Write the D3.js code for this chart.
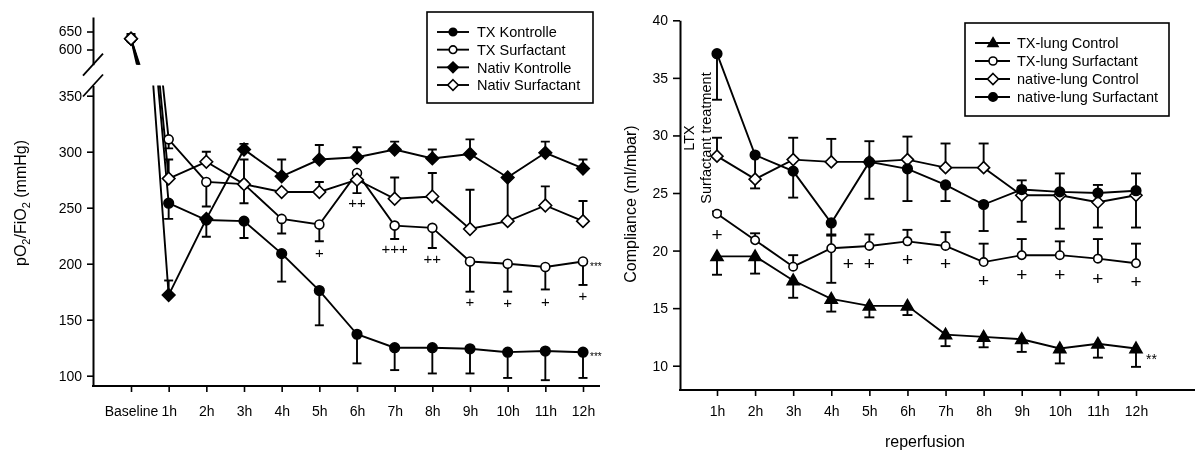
<!DOCTYPE html>
<html><head><meta charset="utf-8">
<script src="https://cdn.jsdelivr.net/npm/d3@7"></script>
<style>body{margin:0;background:#fff} svg{opacity:0.999;will-change:opacity} text{font-family:"Liberation Sans",Arial,sans-serif;fill:#000}</style>
</head><body><svg id="c" width="1195" height="451"></svg>
<script>
// ---------- LEFT CHART DATA (pO2/FiO2, mmHg) ----------
const catsL = ["Baseline","1h","2h","3h","4h","5h","6h","7h","8h","9h","10h","11h","12h"];
const txKontrolle      = [630, 254, 239, 238, 209, 176, 137, 125, 125, 124, 121, 122, 121];
const txKontrolleLo    = [null,240, 224, 223, 184, 145, 111, 105, 102, 102, 98,  96,  98];
const txSurfactant     = [630, 311, 273, 271, 240, 235, 281, 234, 232, 202, 200, 197, 202];
const txSurfactantLo   = [null,303, 251, 254, 227, 220, 263, 222, 214, 175, 175, 177, 181];
const nativKontrolle   = [630, 172, 240, 302, 278, 293, 295, 302, 294, 298, 277, 299, 285];
const nativKontrolleHi = [null,185, null,307, 293, 306, 304, 309, 302, 311, null,309, 293];
const nativSurfactant  = [630, 276, 291, 271, 264, 264, 275, 258, 260, 231, 238, 252, 238];
const nativSurfactantHi= [643, 293, 300, 293, null,273, null,277, 281, 266, 277, 269, 256];
const ticksLLow  = [100,150,200,250,300,350];
const ticksLHigh = [600,650];
const signifL = [["5h",210,"+"],["6h",254,"++"],["7h",213,"+++"],["8h",204,"++"],["9h",166,"+"],["10h",165,"+"],["11h",166,"+"],["12h",171,"+"]];
const starsL = [["12h",199,"***"],["12h",119,"***"]];

// ---------- RIGHT CHART DATA (Compliance, ml/mbar) ----------
const catsR = ["1h","2h","3h","4h","5h","6h","7h","8h","9h","10h","11h","12h"];
const txLungControl     = [19.5,19.5,17.4,15.8,15.2,15.2,12.7,12.5,12.3,11.5,11.9,11.5];
const txLungControlLo   = [17.9,18.0,15.9,14.7,14.2,14.4,11.7,11.6,11.2,10.2,10.7,9.9];
const txLungSurf        = [23.2,20.9,18.6,20.2,20.4,20.8,20.4,19.0,19.6,19.6,19.3,18.9];
const txLungSurfHi      = [23.4,21.5,19.6,21.4,21.4,21.8,21.6,20.6,21.0,20.8,21.0,20.6];
const txLungSurfLo      = [null,null,null,17.2,null,null,null,null,null,null,null,null];
const nativeControl     = [28.2,26.2,27.9,27.7,27.7,27.9,27.2,27.2,24.8,24.8,24.2,24.8];
const nativeControlHi   = [29.8,null,29.8,29.7,29.5,29.9,29.3,29.3,26.1,26.7,25.7,26.7];
const nativeControlLo   = [null,25.4,null,null,null,null,null,null,null,null,null,null];
const nativeSurf        = [37.1,28.3,26.9,22.4,27.7,27.1,25.7,24.0,25.3,25.1,25.0,25.2];
const nativeSurfLo      = [33.1,26.1,24.6,21.3,24.5,24.3,24.3,21.7,22.5,21.9,22.0,22.0];
const ticksR = [10,15,20,25,30,35,40];
const signifR = [["1h",21.45,"+",0],["4h",18.9,"+",17],["5h",18.9,"+",0],["6h",19.2,"+",0],["7h",18.9,"+",0],["8h",17.4,"+",0],["9h",17.95,"+",0],["10h",17.95,"+",0],["11h",17.6,"+",0],["12h",17.3,"+",0]];
const starsR = [["12h",10.9,"**"]];

const svg = d3.select("#c");
const SW = 1.9;

function markerPath(type, x, y, s) {
  const p = d3.path();
  if (type === "circle") { p.moveTo(x + s, y); p.arc(x, y, s, 0, 2 * Math.PI); }
  else if (type === "diamond") { p.moveTo(x, y - s); p.lineTo(x + s, y); p.lineTo(x, y + s); p.lineTo(x - s, y); p.closePath(); }
  else if (type === "triangle") { p.moveTo(x, y - s * 1.05); p.lineTo(x + s, y + s * 0.7); p.lineTo(x - s, y + s * 0.7); p.closePath(); }
  return p.toString();
}
function drawMarker(g, type, filled, x, y, s) {
  g.append("path").attr("d", markerPath(type, x, y, s))
    .attr("fill", filled ? "#000" : "#fff").attr("stroke", "#000").attr("stroke-width", 1.6);
}
function drawBar(g, x, y0, y1, cap) {
  g.append("line").attr("x1", x).attr("x2", x).attr("y1", y0).attr("y2", y1).attr("stroke", "#000").attr("stroke-width", SW);
  g.append("line").attr("x1", x - cap).attr("x2", x + cap).attr("y1", y1).attr("y2", y1).attr("stroke", "#000").attr("stroke-width", SW);
}

// ================= LEFT CHART =================
const xL = d3.scalePoint().domain(catsL).range([131, 583]);
const yLow = d3.scaleLinear().domain([90.8, 359.1]).range([386, 85.5]);
const yHigh = d3.scaleLinear().domain([557.8, 690.3]).range([64.7, 17]);

const defs = svg.append("defs");
defs.append("clipPath").attr("id", "clipHigh").append("rect").attr("x", 94).attr("y", 0).attr("width", 520).attr("height", 64.7);
defs.append("clipPath").attr("id", "clipLow").append("rect").attr("x", 94).attr("y", 85.5).attr("width", 520).attr("height", 300.5);

const seriesL = [
  {v: txKontrolle, lo: txKontrolleLo, hi: null, type: "circle", filled: true, s: 4.8},
  {v: txSurfactant, lo: txSurfactantLo, hi: null, type: "circle", filled: false, s: 4.5},
  {v: nativKontrolle, lo: null, hi: nativKontrolleHi, type: "diamond", filled: true, s: 6.3},
  {v: nativSurfactant, lo: null, hi: nativSurfactantHi, type: "diamond", filled: false, s: 6.3}
];
const BREAK = 450;
[[yHigh, "clipHigh", d => d >= BREAK], [yLow, "clipLow", d => d < BREAK]].forEach(([ys, clip, inPanel]) => {
  const g = svg.append("g").attr("clip-path", `url(#${clip})`);
  const line = d3.line().x((d, i) => xL(catsL[i])).y(d => ys(d));
  seriesL.forEach(s => {
    g.append("path").datum(s.v).attr("d", line).attr("fill", "none").attr("stroke", "#000").attr("stroke-width", SW);
  });
  seriesL.forEach(s => {
    s.v.forEach((d, i) => {
      if (!inPanel(d)) return;
      const x = xL(catsL[i]);
      if (s.lo && s.lo[i] != null) drawBar(g, x, ys(d), ys(s.lo[i]), 4.5);
      if (s.hi && s.hi[i] != null) drawBar(g, x, ys(d), ys(s.hi[i]), 4.5);
    });
  });
  seriesL.forEach(s => {
    s.v.forEach((d, i) => {
      if (!inPanel(d)) return;
      drawMarker(g, s.type, s.filled, xL(catsL[i]), ys(d), s.s);
    });
  });
});

// left axes
const axLow = svg.append("g").attr("transform", "translate(93,0)")
  .call(d3.axisLeft(yLow).tickValues(ticksLLow).tickSize(6).tickSizeOuter(0).tickPadding(5));
const axHigh = svg.append("g").attr("transform", "translate(93,0)")
  .call(d3.axisLeft(yHigh).tickValues(ticksLHigh).tickSize(6).tickSizeOuter(0).tickPadding(5));
[axLow, axHigh].forEach(a => {
  a.selectAll("path.domain").attr("stroke-width", 2);
  a.selectAll(".tick line").attr("stroke-width", 1.6);
  a.selectAll("text").attr("font-size", 14).attr("font-family", "Liberation Sans, Arial, sans-serif");
});
// break marks
[64.7, 85.5].forEach(cy => {
  svg.append("line").attr("x1", 83).attr("y1", cy + 11).attr("x2", 103).attr("y2", cy - 11).attr("stroke", "#000").attr("stroke-width", 1.8);
});
// x axis
svg.append("line").attr("x1", 92).attr("x2", 600).attr("y1", 386).attr("y2", 386).attr("stroke", "#000").attr("stroke-width", 2);
const axXL = svg.append("g").attr("transform", "translate(0,386)")
  .call(d3.axisBottom(xL).tickSize(6).tickPadding(14));
axXL.select("path.domain").remove();
axXL.selectAll(".tick line").attr("stroke-width", 1.6);
axXL.selectAll("text").attr("font-size", 14).attr("font-family", "Liberation Sans, Arial, sans-serif");

// y label
const ylab = svg.append("text").attr("transform", "translate(26,203) rotate(-90)").attr("text-anchor", "middle").attr("font-size", 16);
ylab.append("tspan").text("pO");
ylab.append("tspan").attr("font-size", 11).attr("dy", 4).text("2");
ylab.append("tspan").attr("dy", -4).text("/FiO");
ylab.append("tspan").attr("font-size", 11).attr("dy", 4).text("2");
ylab.append("tspan").attr("dy", -4).text(" (mmHg)");

// significance
signifL.forEach(([c, v, t]) => {
  svg.append("text").attr("x", xL(c)).attr("y", yLow(v)).attr("dy", "0.35em").attr("text-anchor", "middle").attr("font-size", 15).text(t);
});
starsL.forEach(([c, v, t]) => {
  svg.append("text").attr("x", xL(c) + 7).attr("y", yLow(v)).attr("dy", "0.55em").attr("font-size", 10).attr("fill", "#333").text(t);
});

// left legend
svg.append("rect").attr("x", 427).attr("y", 12).attr("width", 166).attr("height", 91).attr("fill", "#fff").attr("stroke", "#000").attr("stroke-width", 1.6);
const legL = [["TX Kontrolle", "circle", true, 3.8], ["TX Surfactant", "circle", false, 3.8], ["Nativ Kontrolle", "diamond", true, 5.3], ["Nativ Surfactant", "diamond", false, 5.3]];
const legLY = d3.scalePoint().domain(d3.range(4)).range([32, 85]);
legL.forEach(([t, type, f, s], i) => {
  const y = legLY(i);
  svg.append("line").attr("x1", 437).attr("x2", 469).attr("y1", y).attr("y2", y).attr("stroke", "#000").attr("stroke-width", SW);
  drawMarker(svg, type, f, 453, y, s);
  svg.append("text").attr("x", 477).attr("y", y).attr("dy", "0.36em").attr("font-size", 14.5).text(t);
});

// ================= RIGHT CHART =================
const xR = d3.scalePoint().domain(catsR).range([717, 1136]);
const yR = d3.scaleLinear().domain([7.89, 40]).range([390, 20.3]);
const seriesR = [
  {v: txLungControl, lo: txLungControlLo, hi: null, type: "triangle", filled: true, s: 6},
  {v: txLungSurf, lo: txLungSurfLo, hi: txLungSurfHi, type: "circle", filled: false, s: 4.2},
  {v: nativeControl, lo: nativeControlLo, hi: nativeControlHi, type: "diamond", filled: false, s: 6},
  {v: nativeSurf, lo: nativeSurfLo, hi: null, type: "circle", filled: true, s: 4.8}
];
const gR = svg.append("g");
const lineR = d3.line().x((d, i) => xR(catsR[i])).y(d => yR(d));
seriesR.forEach(s => gR.append("path").datum(s.v).attr("d", lineR).attr("fill", "none").attr("stroke", "#000").attr("stroke-width", SW));
seriesR.forEach(s => s.v.forEach((d, i) => {
  const x = xR(catsR[i]);
  if (s.lo && s.lo[i] != null) drawBar(gR, x, yR(d), yR(s.lo[i]), 5);
  if (s.hi && s.hi[i] != null) drawBar(gR, x, yR(d), yR(s.hi[i]), 5);
}));
seriesR.forEach(s => s.v.forEach((d, i) => drawMarker(gR, s.type, s.filled, xR(catsR[i]), yR(d), s.s)));

const axYR = svg.append("g").attr("transform", "translate(680,0)")
  .call(d3.axisLeft(yR).tickValues(ticksR).tickSize(7).tickSizeOuter(0).tickPadding(5));
axYR.select("path.domain").attr("stroke-width", 2);
axYR.selectAll(".tick line").attr("stroke-width", 1.6);
axYR.selectAll("text").attr("font-size", 14).attr("font-family", "Liberation Sans, Arial, sans-serif");
svg.append("line").attr("x1", 679).attr("x2", 1195).attr("y1", 390).attr("y2", 390).attr("stroke", "#000").attr("stroke-width", 2);
const axXR = svg.append("g").attr("transform", "translate(0,390)")
  .call(d3.axisBottom(xR).tickSize(6).tickPadding(10));
axXR.select("path.domain").remove();
axXR.selectAll(".tick line").attr("stroke-width", 1.6);
axXR.selectAll("text").attr("font-size", 14).attr("font-family", "Liberation Sans, Arial, sans-serif");

svg.append("text").attr("transform", "translate(636,204) rotate(-90)").attr("text-anchor", "middle").attr("font-size", 16).text("Compliance (ml/mbar)");
svg.append("text").attr("x", 925).attr("y", 441).attr("dy", "0.35em").attr("text-anchor", "middle").attr("font-size", 16).text("reperfusion");
svg.append("text").attr("transform", "translate(694,138) rotate(-90)").attr("text-anchor", "middle").attr("font-size", 14.5).text("LTX");
svg.append("text").attr("transform", "translate(711,138) rotate(-90)").attr("text-anchor", "middle").attr("font-size", 14.5).text("Surfactant treatment");

signifR.forEach(([c, v, t, dx]) => {
  svg.append("text").attr("x", xR(c) + dx).attr("y", yR(v)).attr("dy", "0.35em").attr("text-anchor", "middle").attr("font-size", 19).text(t);
});
starsR.forEach(([c, v, t]) => {
  svg.append("text").attr("x", xR(c) + 10).attr("y", yR(v)).attr("dy", "0.6em").attr("font-size", 14).text(t);
});

// right legend
svg.append("rect").attr("x", 965).attr("y", 23).attr("width", 204).attr("height", 93).attr("fill", "#fff").attr("stroke", "#000").attr("stroke-width", 1.6);
const legR = [["TX-lung Control", "triangle", true, 5], ["TX-lung Surfactant", "circle", false, 4], ["native-lung Control", "diamond", false, 5.5], ["native-lung Surfactant", "circle", true, 4.3]];
const legRY = d3.scalePoint().domain(d3.range(4)).range([43, 97]);
legR.forEach(([t, type, f, s], i) => {
  const y = legRY(i);
  svg.append("line").attr("x1", 975).attr("x2", 1010).attr("y1", y).attr("y2", y).attr("stroke", "#000").attr("stroke-width", SW);
  drawMarker(svg, type, f, 993, y, s);
  svg.append("text").attr("x", 1017).attr("y", y).attr("dy", "0.36em").attr("font-size", 14.5).text(t);
});
</script></body></html>
